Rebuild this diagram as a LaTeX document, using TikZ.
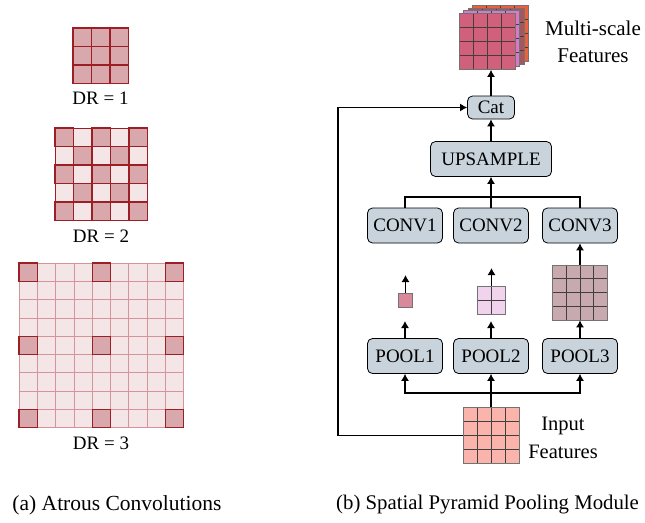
\documentclass[tikz,border=0pt]{standalone}
\usepackage{fontspec}
\setmainfont{Liberation Serif}
\usepackage{tikz}
\usetikzlibrary{calc,arrows.meta,positioning}
\definecolor{blockgray}{HTML}{C9D3DB}
\definecolor{hotfill}{HTML}{D9A8AC}
\definecolor{coldfill}{HTML}{F4E5E7}
\definecolor{kerneldark}{HTML}{9B1F24}
\definecolor{kernellight}{HTML}{D49499}
\definecolor{inred}{HTML}{FBB4AC}
\definecolor{pone}{HTML}{D98A9A}
\definecolor{ptwo}{HTML}{F2D3EE}
\definecolor{pthree}{HTML}{C8A9AD}
\definecolor{msfront}{HTML}{D2607A}
\definecolor{msmagenta}{HTML}{D878C8}
\definecolor{msbrown}{HTML}{A05A5E}
\definecolor{msorange}{HTML}{EE603C}
\tikzset{
    block/.style={
    rectangle,rounded corners=5pt,draw=black,fill=blockgray,line width=0.8pt,
    inner sep=2pt,minimum height=35pt,minimum width=75pt
    },
    smallblock/.style={
    block,minimum height=23pt,minimum width=47pt
    },
    fmap/.style={
    rectangle,draw=black!55,line width=0.8pt,inner sep=0pt
    },
    cells/.style={
    path picture={
      \foreach \k in {1,...,#1}{
        \draw[black!75,line width=0.8pt]
          ($(path picture bounding box.north west)!\k/#1!(path picture bounding box.north east)$) --
          ($(path picture bounding box.south west)!\k/#1!(path picture bounding box.south east)$);
        \draw[black!75,line width=0.8pt]
          ($(path picture bounding box.north west)!\k/#1!(path picture bounding box.south west)$) --
          ($(path picture bounding box.north east)!\k/#1!(path picture bounding box.south east)$);
      }
    }
    },
    hotcell/.style={
    fill=hotfill,draw=kerneldark,line width=1.1pt
    },
    coldcell/.style={
    fill=coldfill,draw=kerneldark,line width=0.9pt
    },
    palecell/.style={
    fill=coldfill,draw=kernellight,line width=0.8pt
    },
    wire/.style={
    line width=1.1pt
    },
    arr/.style={
    -{Latex[length=7pt,width=8pt]},line width=1.1pt
    },
}

\begin{document}
\begin{tikzpicture}[x=1pt, y=-1pt, font=\fontsize{19}{22}\selectfont]
  \useasboundingbox (0,0) rectangle (645,522);

  % (a) kernels
  \foreach \i in {0,1,2}
    \foreach \j in {0,1,2}
      \draw[hotcell] (73+18.5*\i,28+18.5*\j) rectangle ++(18.5,18.5);
  \node (DR1) at (100.5,98) {DR = 1};

  \foreach \i in {0,...,4}
    \foreach \j in {0,...,4}
      \draw[coldcell] (55+18.5*\i,128+18.5*\j) rectangle ++(18.5,18.5);
  \foreach \i in {0,...,4}
    \foreach \j in {0,...,4}{
      \ifodd\numexpr\i+\j\relax\else
        \draw[hotcell] (55+18.5*\i,128+18.5*\j) rectangle ++(18.5,18.5);
      \fi
    }
  \node (DR2) at (101,236) {DR = 2};

  \foreach \i in {0,...,8}
    \foreach \j in {0,...,8}
      \draw[palecell] (19+18.3*\i,263+18.3*\j) rectangle ++(18.3,18.3);
  \foreach \i in {0,4,8}
    \foreach \j in {0,4,8}
      \draw[hotcell] (19+18.3*\i,263+18.3*\j) rectangle ++(18.3,18.3);
  \node (DR3) at (101,443) {DR = 3};

  \node[font=\fontsize{21.5}{24}\selectfont] (CAPA) at (117,505) {(a) Atrous Convolutions};

  % (b) pyramid pooling
  \node[block] (POOL1) at (405,356) {POOL1};
  \node[block] (POOL2) at (491,356) {POOL2};
  \node[block] (POOL3) at (580,356) {POOL3};
  \node[block] (CONV1) at (405,225.5) {CONV1};
  \node[block] (CONV2) at (491,225.5) {CONV2};
  \node[block] (CONV3) at (580,225.5) {CONV3};
  \node[block, minimum width=121pt] (UPS) at (491,159) {UPSAMPLE};
  \node[smallblock] (CAT) at (491,107.5) {Cat};

  \node[fmap, fill=inred, minimum size=56pt, cells=4] (IN) at (491,435.5) {};
  \node[fmap, fill=pone, minimum size=14pt, cells=1] (P1OUT) at (405.5,300) {};
  \node[fmap, fill=ptwo, minimum size=28pt, cells=2] (P2OUT) at (491.5,300) {};
  \node[fmap, fill=pthree, minimum size=55pt, cells=4] (P3OUT) at (580,292.5) {};

  \node[fmap, fill=msorange, minimum size=56pt, cells=4] (MS4) at (500.4,33.4) {};
  \node[fmap, fill=msbrown, minimum size=56pt, cells=4] (MS3) at (496.1,36.1) {};
  \node[fmap, fill=msmagenta, minimum size=56pt, cells=4] (MS2) at (491.8,38.8) {};
  \node[fmap, fill=msfront, minimum size=56pt, cells=4] (MS1) at (487.5,41.5) {};

  \node[align=center, font=\fontsize{21}{27}\selectfont] (MSTXT) at (593,41.5) {Multi-scale\\Features};
  \node[align=center, font=\fontsize{20.5}{28}\selectfont] (INTXT) at (563,437.5) {Input\\Features};

  \coordinate (P1TIP) at (405,321);
  \coordinate (P2TIP) at (491,321);
  \coordinate (O1TIP) at (405.5,275);
  \coordinate (O2TIP) at (491.5,268);
  \coordinate (BUSIN) at (491,393);
  \coordinate (BUSUP) at (491,197);
  \coordinate (FB) at (338,435.5);

  \path[arr]
    (POOL1) edge (P1TIP)
    (POOL2) edge (P2TIP)
    (POOL3) edge (P3OUT)
    (P1OUT) edge (O1TIP)
    (P2OUT) edge (O2TIP)
    (P3OUT) edge (CONV3)
    (UPS) edge (CAT)
    (CAT.north) edge (CAT.north |- MS1.south);

  \draw[wire] (CONV1.north) |- (BUSUP) -| (CONV3.north);
  \draw[wire] (CONV2.north) -- (BUSUP);
  \draw[arr] (BUSUP) -- (UPS.south);
  \draw[arr] (IN.north) -- (POOL2.south);
  \draw[arr] (BUSIN) -| (POOL1.south);
  \draw[arr] (BUSIN) -| (POOL3.south);
  \draw[arr] (IN.west) -- (FB) |- (CAT.west);

  \node[anchor=west, inner sep=0pt, font=\fontsize{20.8}{24}\selectfont] (CAPB) at (336,505) {(b) Spatial Pyramid Pooling Module};
\end{tikzpicture}
\end{document}
